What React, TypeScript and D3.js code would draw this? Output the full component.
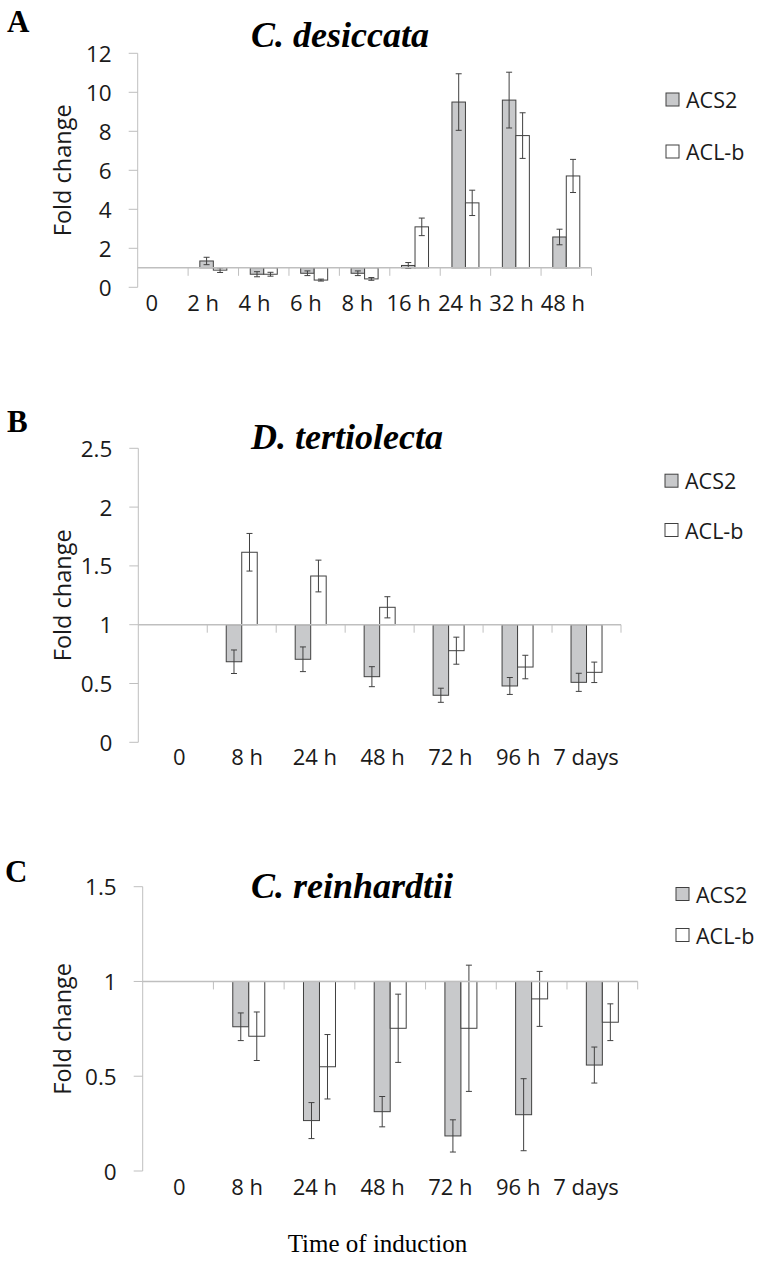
import React from "react";
import * as d3 from "d3";

// ---------- DATA ----------
const seriesNames = ["ACS2", "ACL-b"];

const catsA = ["0", "2 h", "4 h", "6 h", "8 h", "16 h", "24 h", "32 h", "48 h"];
const acs2A = [1, 1.35, 0.67, 0.72, 0.72, 1.12, 9.5, 9.6, 2.58];
const acs2ErrA = [0, 0.19, 0.13, 0.12, 0.12, 0.15, 1.45, 1.43, 0.4];
const aclA = [1, 0.88, 0.67, 0.37, 0.43, 3.1, 4.33, 7.78, 5.71];
const aclErrA = [0, 0.12, 0.1, 0.05, 0.07, 0.45, 0.65, 1.17, 0.85];
const ticksA = [0, 2, 4, 6, 8, 10, 12];

const catsB = ["0", "8 h", "24 h", "48 h", "72 h", "96 h", "7 days"];
const acs2B = [1, 0.685, 0.706, 0.558, 0.4, 0.479, 0.51];
const acs2ErrB = [0, 0.1, 0.105, 0.085, 0.06, 0.072, 0.077];
const aclB = [1, 1.616, 1.414, 1.148, 0.779, 0.64, 0.595];
const aclErrB = [0, 0.16, 0.135, 0.09, 0.115, 0.1, 0.087];
const ticksB = [0, 0.5, 1, 1.5, 2, 2.5];

const catsC = ["0", "8 h", "24 h", "48 h", "72 h", "96 h", "7 days"];
const acs2C = [1, 0.761, 0.266, 0.313, 0.185, 0.297, 0.559];
const acs2ErrC = [0, 0.073, 0.095, 0.08, 0.085, 0.19, 0.095];
const aclC = [1, 0.711, 0.55, 0.753, 0.753, 0.908, 0.785];
const aclErrC = [0, 0.128, 0.17, 0.18, 0.333, 0.145, 0.097];
const ticksC = [0, 0.5, 1, 1.5];

const titles = ["C. desiccata", "D. tertiolecta", "C. reinhardtii"];
const letters = ["A", "B", "C"];
const yTitle = "Fold change";
const xTitle = "Time of induction";

// ---------- STYLE ----------
const SANS = "'Open Sans', 'Noto Sans', sans-serif";
const SERIF = "'Liberation Serif', 'Times New Roman', serif";
const AXIS = "#bfbfbf";
const DARK = "#404040";
const FILLS = ["#c8c9cb", "#ffffff"];

type Panel = {
  cats: string[];
  vals: number[][];
  errs: number[][];
  ticks: number[];
  title: string;
  letter: string;
  x0: number; x1: number; yTop: number; yBot: number;
  barW: number;
  titleY: number; letterY: number; letterX: number;
  legX: number; legY: number[];
  xLabY: number; labRange: [number, number];
};

const panels: Panel[] = [
  {
    cats: catsA, vals: [acs2A, aclA], errs: [acs2ErrA, aclErrA], ticks: ticksA,
    title: titles[0], letter: letters[0],
    x0: 137.7, x1: 591.5, yTop: 53.3, yBot: 287.3, barW: 13.5,
    titleY: 47, letterY: 32, letterX: 7,
    legX: 666, legY: [99.5, 151.5],
    xLabY: 311, labRange: [126, 588.6],
  },
  {
    cats: catsB, vals: [acs2B, aclB], errs: [acs2ErrB, aclErrB], ticks: ticksB,
    title: titles[1], letter: letters[1],
    x0: 138.3, x1: 621, yTop: 448.3, yBot: 742.3, barW: 15.5,
    titleY: 448.5, letterY: 432, letterX: 7,
    legX: 665, legY: [480.7, 530],
    xLabY: 765, labRange: [145.4, 619.9],
  },
  {
    cats: catsC, vals: [acs2C, aclC], errs: [acs2ErrC, aclErrC], ticks: ticksC,
    title: titles[2], letter: letters[2],
    x0: 142.7, x1: 637.7, yTop: 886.7, yBot: 1171, barW: 16,
    titleY: 897.5, letterY: 882, letterX: 5,
    legX: 676, legY: [894, 935],
    xLabY: 1195, labRange: [145.4, 619.9],
  },
];

function PanelView({ p }: { p: Panel }) {
  const yMax = p.ticks[p.ticks.length - 1];
  const y = d3.scaleLinear().domain([0, yMax]).range([p.yBot, p.yTop]);
  const x = d3.scaleBand<string>().domain(p.cats).range([p.x0, p.x1]).padding(0);
  const xl = d3.scaleBand<string>().domain(p.cats).range(p.labRange).padding(0);
  const base = y(1);
  const bw = x.bandwidth();

  return (
    <g>
      <text x={p.letterX} y={p.letterY} fontFamily={SERIF} fontWeight="bold" fontSize={31} fill="#000">
        {p.letter}
      </text>
      <text x={251} y={p.titleY} fontFamily={SERIF} fontWeight="bold" fontStyle="italic" fontSize={36} fill="#000">
        {p.title}
      </text>

      {/* y axis */}
      <line x1={p.x0} x2={p.x0} y1={y(0)} y2={y(yMax)} stroke={AXIS} strokeWidth={1} />
      {p.ticks.map((t) => (
        <g key={t}>
          <line x1={p.x0 - 9} x2={p.x0} y1={y(t)} y2={y(t)} stroke={AXIS} strokeWidth={1} />
          <text x={p.x0 - 26} y={y(t)} textAnchor="end" dominantBaseline="central"
            fontFamily={SANS} fontSize={22.5} fill="#1a1a1a">{String(t)}</text>
        </g>
      ))}
      <text transform={`translate(62,${(y(0) + y(yMax)) / 2}) rotate(-90)`} textAnchor="middle"
        dominantBaseline="central" fontFamily={SANS} fontSize={23.5} fill="#1a1a1a">{yTitle}</text>

      {/* bars */}
      {p.cats.map((c, i) => {
        const cx = (x(c) as number) + bw / 2;
        return (
          <g key={c}>
            {p.vals.map((vs, s) => {
              const v = vs[i];
              const e = p.errs[s][i];
              if (v === 1 && e === 0) return null;
              const bx = cx - p.barW + s * p.barW;
              const top = Math.min(y(v), base);
              const h = Math.abs(y(v) - base);
              const ex = bx + p.barW / 2;
              return (
                <g key={s}>
                  <rect x={bx} y={top} width={p.barW} height={h} fill={FILLS[s]} stroke={DARK} strokeWidth={1} />
                  <line x1={ex} x2={ex} y1={y(v - e)} y2={y(v + e)} stroke={DARK} strokeWidth={1} />
                  <line x1={ex - 3} x2={ex + 3} y1={y(v - e)} y2={y(v - e)} stroke={DARK} strokeWidth={1} />
                  <line x1={ex - 3} x2={ex + 3} y1={y(v + e)} y2={y(v + e)} stroke={DARK} strokeWidth={1} />
                </g>
              );
            })}
          </g>
        );
      })}

      {/* baseline at 1 with category ticks */}
      <line x1={p.x0} x2={p.x1} y1={base} y2={base} stroke={AXIS} strokeWidth={1.5} />
      {p.cats.map((c, i) => {
        const bx = (x(c) as number) + bw;
        return <line key={"t" + i} x1={bx} x2={bx} y1={base} y2={base + 8} stroke={AXIS} strokeWidth={1} />;
      })}
      {p.cats.map((c) => (
        <text key={"l" + c} x={(xl(c) as number) + xl.bandwidth() / 2} y={p.xLabY} textAnchor="middle"
          fontFamily={SANS} fontSize={22} fill="#1a1a1a">{c}</text>
      ))}

      {/* legend */}
      {seriesNames.map((n, s) => (
        <g key={n}>
          <rect x={p.legX} y={p.legY[s] - 6.5} width={13} height={13} fill={FILLS[s]} stroke={DARK} strokeWidth={1} />
          <text x={p.legX + 20} y={p.legY[s]} dominantBaseline="central" fontFamily={SANS} fontSize={21.5} fill="#1a1a1a">{n}</text>
        </g>
      ))}
    </g>
  );
}

export default function App() {
  return (
    <svg width={760} height={1267} style={{ position: "absolute", left: 0, top: 0, background: "#fff" }}>
      <rect x={0} y={0} width={760} height={1267} fill="#fff" />
      {panels.map((p, i) => <PanelView key={i} p={p} />)}
      <text x={377.5} y={1252} textAnchor="middle" fontFamily={SERIF} fontSize={25} fill="#000">{xTitle}</text>
    </svg>
  );
}
